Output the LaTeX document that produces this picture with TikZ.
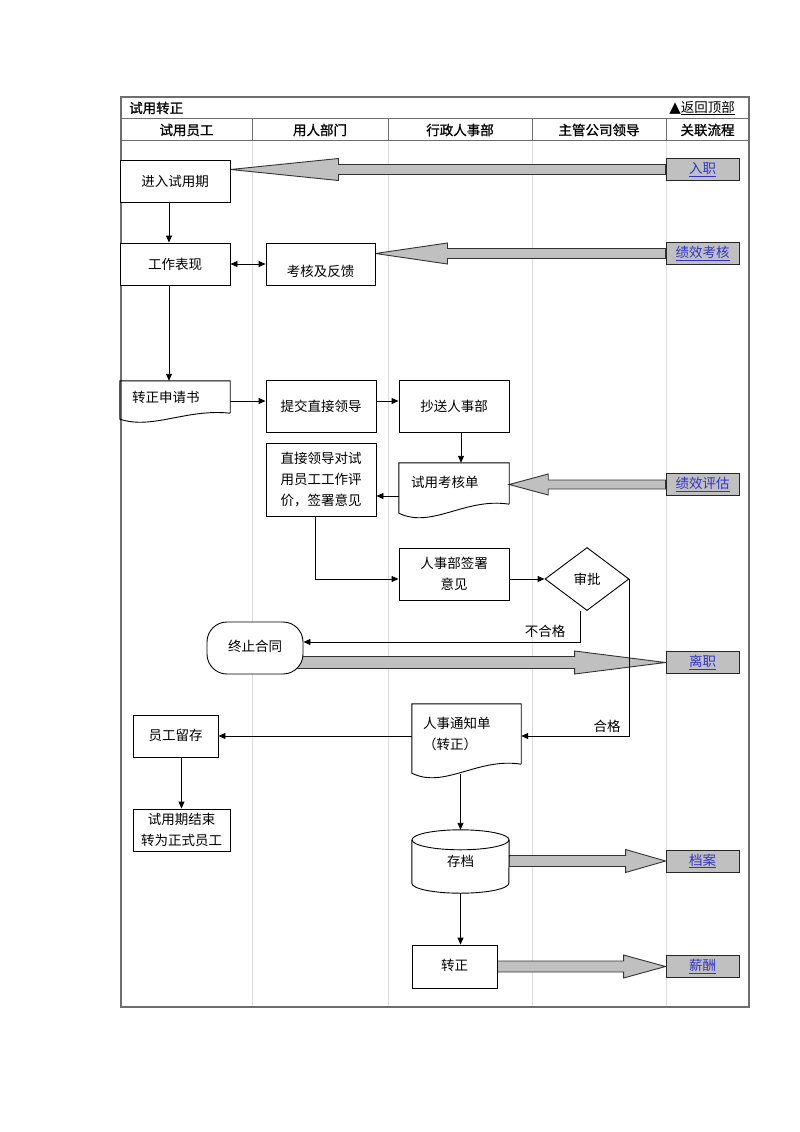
\documentclass[tikz,border=0pt]{standalone}
\usepackage{fontspec}
\setmainfont{Noto Sans CJK SC}
\newfontfamily\hdrfont{Noto Sans CJK SC}[FakeBold=1]
\newfontfamily\symfont{DejaVu Sans}
\usetikzlibrary{shapes.geometric,arrows.meta,calc}
\definecolor{framec}{HTML}{6E6E6E}
\definecolor{lanec}{HTML}{DCDCDC}
\definecolor{fatgray}{HTML}{C0C0C0}
\definecolor{linkblue}{HTML}{3333CC}
\pgfdeclarelayer{lanes}
\pgfdeclarelayer{fat}
\pgfsetlayers{lanes,fat,main}
\newcommand\shiftdn[2]{\raisebox{-#1}[\height][\depth]{#2}}
\newcommand\fatarrow[5]{\draw[fatstyle] ($(#1)+(0,-#4)$) -- ($(#2)+(#3,-#4)$) -- ($(#2)+(#3,-#5)$) -- (#2) -- ($(#2)+(#3,#5)$) -- ($(#2)+(#3,#4)$) -- ($(#1)+(0,#4)$) -- cycle;}
\tikzset{
 txt/.style={font=\fontsize{13.5}{21}\selectfont},
 box/.style={txt, draw=black, line width=0.9pt, fill=white, inner sep=0pt, align=center},
 plain/.style={txt, inner sep=0pt, align=center},
 outline/.style={draw=black, line width=0.9pt},
 linkbox/.style={draw=black!85, line width=0.9pt, fill=fatgray, inner sep=0pt, minimum width=73pt, minimum height=22pt, text=linkblue, font=\fontsize{13.5}{16}\selectfont},
 fatstyle/.style={fill=fatgray, draw=black!80, line width=0.9pt, line join=miter},
 conn/.style={line width=0.9pt, -{Triangle[length=7pt,width=6pt]}},
 dconn/.style={line width=0.9pt, {Triangle[length=7pt,width=6pt]}-{Triangle[length=7pt,width=6pt]}},
 hdr/.style={font=\hdrfont\fontsize{13.5}{16}\selectfont, inner sep=0pt},
}
\begin{document}
\begin{tikzpicture}[x=1pt,y=-1pt]
\path[use as bounding box] (0,0) rectangle (800,1132);

% background and lanes
\begin{pgfonlayer}{lanes}
\fill[white] (0,0) rectangle (800,1132);
\foreach \x in {252,388,532,666} \draw[lanec, line width=1pt] (\x,140) -- (\x,1007);
\end{pgfonlayer}

% frame
\draw[framec, line width=1.2pt] (121,97) rectangle (749,1007);
\draw[framec, line width=1pt] (121,118) -- (749,118);
\draw[framec, line width=1pt] (121,140) -- (749,140);
\foreach \x in {252,388,532,666} \draw[framec, line width=1pt] (\x,118) -- (\x,140);

% title and header
\node[hdr, anchor=west] (title) at (129,108) {试用转正};
\node[txt, anchor=east, inner sep=0pt] (back) at (735,108) {{\symfont\fontsize{15}{16}\selectfont ▲}\underline{返回顶部}};
\node[hdr] (h1) at (186.5,130) {试用员工};
\node[hdr] (h2) at (320,130) {用人部门};
\node[hdr] (h3) at (460,130) {行政人事部};
\node[hdr] (h4) at (599,130) {主管公司领导};
\node[hdr] (h5) at (707.5,130) {关联流程};

% nodes
\node[box, minimum width=110pt, minimum height=42pt] (n1) at (175,181) {进入试用期};
\node[box, minimum width=110pt, minimum height=42pt] (n2) at (175,264) {工作表现};
\node[box, minimum width=109pt, minimum height=42pt] (n3) at (320.5,264) {\shiftdn{7pt}{考核及反馈}};
\node[plain, text width=86pt, inner xsep=12pt, align=left, minimum height=32pt] (n4) at (175,397) {转正申请书};
\node[box, minimum width=110pt, minimum height=52pt] (n5) at (321,406) {提交直接领导};
\node[box, minimum width=110pt, minimum height=52pt] (n6) at (454,406) {抄送人事部};
\node[box, minimum width=110pt, minimum height=73pt] (n7) at (321,479.5) {直接领导对试\\用员工工作评\\价，签署意见};
\node[plain, text width=86pt, inner xsep=12pt, align=left, minimum height=41pt] (n9) at (454,483.5) {\raisebox{3pt}{试用考核单}};
\node[box, minimum width=110pt, minimum height=52pt] (n8) at (454,574) {人事部签署\\意见};
\node[txt, draw=black, line width=0.9pt, fill=white, diamond, aspect=1.33, minimum width=84pt, minimum height=63pt, inner sep=0pt] (D) at (587,579) {审批};
\node[box, rounded corners=20pt, minimum width=96pt, minimum height=52pt] (E) at (255,648) {\raisebox{4pt}{终止合同}};
\node[plain, text width=87pt, inner xsep=11pt, align=left, minimum height=60pt] (n10) at (466.5,734) {人事通知单\\（转正）};
\node[box, minimum width=85pt, minimum height=42pt] (F1) at (175.5,736) {\raisebox{3pt}{员工留存}};
\node[box, minimum width=97pt, minimum height=42pt] (F2) at (181.5,830) {试用期结束\\转为正式员工};
\node[plain, minimum width=97pt, minimum height=63pt] (G) at (460.5,861.5) {存档};
\node[box, minimum width=85pt, minimum height=43pt] (H) at (454.5,966.5) {\raisebox{3pt}{转正}};

% link boxes
\node[linkbox] (L1) at (702.5,169.5) {\underline{入职}};
\node[linkbox] (L2) at (702.5,253.5) {\underline{绩效考核}};
\node[linkbox] (L3) at (702.5,484.5) {\underline{绩效评估}};
\node[linkbox] (L4) at (702.5,662.5) {\underline{离职}};
\node[linkbox] (L5) at (702.5,861) {\underline{档案}};
\node[linkbox] (L6) at (702.5,966.5) {\underline{薪酬}};

% document outlines
\draw[outline] (n4.south east) -- (n4.north east) -- (n4.north west) -- ($(n4.south west)+(0,6)$)
  .. controls ($(n4.south west)+(33,16.7)$) and ($(n4.south east)+(-44,-4.7)$) .. (n4.south east);
\draw[outline] (n9.south east) -- (n9.north east) -- (n9.north west) -- ($(n9.south west)+(0,9)$)
  .. controls ($(n9.south west)+(33,25)$) and ($(n9.south east)+(-44,-7)$) .. (n9.south east);
\draw[outline] (n10.south east) -- (n10.north east) -- (n10.north west) -- ($(n10.south west)+(0,9)$)
  .. controls ($(n10.south west)+(32.7,25)$) and ($(n10.south east)+(-43.6,-7)$) .. (n10.south east);

% cylinder
\draw[outline] ($(G.north west)+(0,10)$) -- ($(G.south west)+(0,-10)$)
  arc[start angle=180, end angle=360, x radius=48.5pt, y radius=10pt] -- ($(G.north east)+(0,10)$);
\draw[outline] ($(G.north)+(0,10)$) ellipse [x radius=48.5pt, y radius=10pt];

% fat arrows
\begin{pgfonlayer}{fat}
\fatarrow{L1.west}{n1.east |- L1.west}{108}{5}{11}
\fatarrow{L2.west}{n3.east |- L2.west}{72}{5}{10.5}
\fatarrow{L3.west}{n9.east |- L3.west}{39}{4.5}{10.5}
\fatarrow{E.center |- L4.west}{L4.west}{-91}{6}{11.5}
\fatarrow{G.east |- L5.west}{L5.west}{-40}{5.5}{11.5}
\fatarrow{H.east |- L6.west}{L6.west}{-42}{5.5}{11.5}
\end{pgfonlayer}

% connectors
\draw[conn] ([xshift=-6pt]n1.south) -- ([xshift=-6pt]n2.north);
\draw[dconn] (n2.east) -- (n3.west);
\draw[conn] ([xshift=-6pt]n2.south) -- ([xshift=-6pt]n4.north);
\draw[conn] ([yshift=-4pt]n4.east) -- ([yshift=-4pt]n4.east -| n5.west);
\draw[conn] ([yshift=5pt]n5.east) -- ([yshift=5pt]n6.west);
\draw[conn] ([xshift=7pt]n6.south) -- ([xshift=7pt]n6.south |- n9.north);
\draw[conn] ([yshift=-12.5pt]n9.west) -- ([yshift=-12.5pt]n9.west -| n7.east);
\draw[conn] ([xshift=-6pt]n7.south) |- (n8.west |- D.west);
\draw[conn] (n8.east |- D.west) -- (D.west);
\draw[conn] ([xshift=-7pt]D.south) |- ([yshift=6pt]E.east);
\node[txt, inner sep=0pt] (nq) at (545,631) {不合格};
\draw[conn] (D.east) |- ([yshift=-2pt]n10.east);
\node[txt, inner sep=0pt] (q) at (607,726) {合格};
\draw[conn] ([yshift=-2pt]n10.west) -- ([yshift=-2pt]n10.west -| F1.east);
\draw[conn] (F2.north |- F1.south) -- (F2.north);
\draw[conn] ([yshift=-10pt]n10.south -| G.north) -- (G.north);
\draw[conn] (G.south) -- (G.south |- H.north);
\end{tikzpicture}
\end{document}
